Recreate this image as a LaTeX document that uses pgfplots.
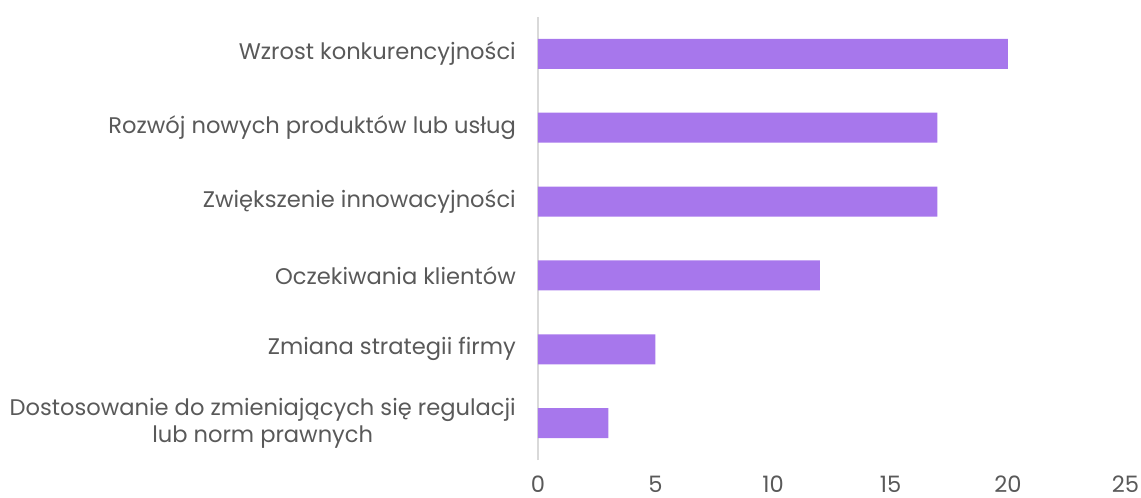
\documentclass[border=0pt]{standalone}
\usepackage{fontspec}
\setmainfont{Poppins}
\usepackage{pgfplots}
\pgfplotsset{compat=1.18}
\definecolor{barc}{HTML}{A777EC}
\definecolor{txt}{HTML}{595959}
\definecolor{axc}{HTML}{D9D9D9}
\begin{document}
\begin{tikzpicture}
\begin{axis}[
  scale only axis,
  width=587.5pt, height=443pt,
  xbar, bar width=30pt,
  xmin=0, xmax=25,
  ymin=-0.5, ymax=5.5,
  xtick={0,5,10,15,20,25},
  ytick={0,1,2,3,4,5},
  yticklabels={{Dostosowanie do zmieniających się regulacji\\lub norm prawnych},{Zmiana strategii firmy},{Oczekiwania klientów},{Zwiększenie innowacyjności},{Rozwój nowych produktów lub usług},{Wzrost konkurencyjności}},
  axis lines*=left,
  x axis line style={draw=none},
  y axis line style={draw=axc, line width=1.5pt},
  major tick length=0pt,
  tick style={draw=none},
  /pgf/number format/assume math mode=true,
  ticklabel style={font=\fontsize{22.6}{27}\selectfont, text=txt},
  yticklabel style={align=center, inner sep=0pt, xshift=-22pt},
  xticklabel style={inner sep=0pt, anchor=base, yshift=-32pt},
  clip=false,
]
\addplot[fill=barc, draw=none] coordinates {(3,0) (5,1) (12,2) (17,3) (17,4) (20,5)};
\end{axis}
\useasboundingbox (-538pt,-38pt) rectangle (603pt,460pt);
\end{tikzpicture}
\end{document}
